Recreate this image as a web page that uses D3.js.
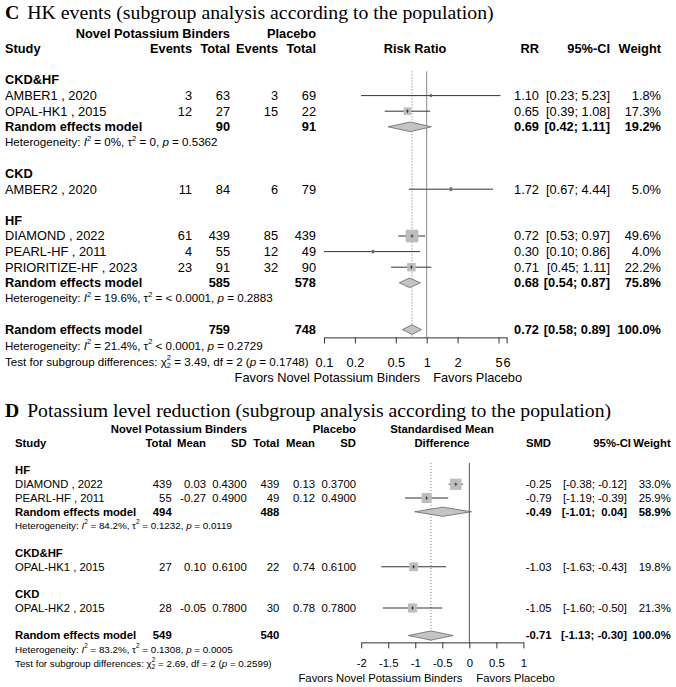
<!DOCTYPE html>
<html><head><meta charset="utf-8">
<script src="https://cdn.jsdelivr.net/npm/d3@7"></script>
<style>
html,body{margin:0;padding:0;background:#fff;}
text{font-family:"Liberation Sans",Arial,sans-serif;fill:#000;white-space:pre;}
.title{font-family:"Liberation Serif","Times New Roman",serif;}
</style></head>
<body><svg id="chart" width="676" height="687"></svg>
<script>
// ---------- Panel C data (HK events, risk ratio) ----------
const cGroups = ["CKD&HF", "CKD", "HF"];
const cStudies = ["AMBER1 , 2020", "OPAL-HK1 , 2015", "AMBER2 , 2020", "DIAMOND , 2022", "PEARL-HF , 2011", "PRIORITIZE-HF , 2023"];
const cStudyGroup = ["CKD&HF", "CKD&HF", "CKD", "HF", "HF", "HF"];
const cEventsT = [3, 12, 11, 61, 4, 23];
const cTotalT = [63, 27, 84, 439, 55, 91];
const cEventsC = [3, 15, 6, 85, 12, 32];
const cTotalC = [69, 22, 79, 439, 49, 90];
const cRR = [1.10, 0.65, 1.72, 0.72, 0.30, 0.71];
const cLower = [0.23, 0.39, 0.67, 0.53, 0.10, 0.45];
const cUpper = [5.23, 1.08, 4.44, 0.97, 0.86, 1.11];
const cWeight = [1.8, 17.3, 5.0, 49.6, 4.0, 22.2];
// pooled (subgroups with a random effects model, then overall)
const cPooledGroup = ["CKD&HF", "HF", "Overall"];
const cPooledTotalT = [90, 585, 759];
const cPooledTotalC = [91, 578, 748];
const cPooledRR = [0.69, 0.68, 0.72];
const cPooledLower = [0.42, 0.54, 0.58];
const cPooledUpper = [1.11, 0.87, 0.89];
const cPooledWeight = ["19.2%", "75.8%", "100.0%"];
const cHetI2 = ["0%", "19.6%", "21.4%"];
const cHetTau = ["= 0", "= < 0.0001", "< 0.0001"];
const cHetP = ["0.5362", "0.2883", "0.2729"];
const cTest = {chi: "3.49", df: "2", p: "0.1748"};
const cTicks = [0.1, 0.2, 0.5, 1, 2, 5, 6];
const cTickLabels = ["0.1", "0.2", "0.5", "1", "2", "5", "6"];

// ---------- Panel D data (potassium level, SMD) ----------
const dGroups = ["HF", "CKD&HF", "CKD"];
const dStudies = ["DIAMOND , 2022", "PEARL-HF , 2011", "OPAL-HK1 , 2015", "OPAL-HK2 , 2015"];
const dStudyGroup = ["HF", "HF", "CKD&HF", "CKD"];
const dTotalT = [439, 55, 27, 28];
const dMeanT = ["0.03", "-0.27", "0.10", "-0.05"];
const dSdT = ["0.4300", "0.4900", "0.6100", "0.7800"];
const dTotalC = [439, 49, 22, 30];
const dMeanC = ["0.13", "0.12", "0.74", "0.78"];
const dSdC = ["0.3700", "0.4900", "0.6100", "0.7800"];
const dSMD = [-0.25, -0.79, -1.03, -1.05];
const dLower = [-0.38, -1.19, -1.63, -1.60];
const dUpper = [-0.12, -0.39, -0.43, -0.50];
const dWeight = [33.0, 25.9, 19.8, 21.3];
const dPooledGroup = ["HF", "Overall"];
const dPooledTotalT = [494, 549];
const dPooledTotalC = [488, 540];
const dPooledSMD = [-0.49, -0.71];
const dPooledLower = [-1.01, -1.13];
const dPooledUpper = [0.04, -0.30];
const dPooledWeight = ["58.9%", "100.0%"];
const dHetI2 = ["84.2%", "83.2%"];
const dHetTau = ["= 0.1232", "= 0.1308"];
const dHetP = ["0.0119", "0.0005"];
const dTest = {chi: "2.69", df: "2", p: "0.2599"};
const dTicks = [-2, -1.5, -1, -0.5, 0, 0.5, 1];
const dTickLabels = ["-2", "-1.5", "-1", "-0.5", "0", "0.5", "1"];

// ---------- helpers ----------
const svg = d3.select("#chart");
const f2 = v => v.toFixed(2);          // plain hyphen-minus, like the reference
const ciStr = (lo, hi) => "[" + f2(lo) + "; " + (hi >= 0 && lo < 0 ? " " : "") + f2(hi) + "]";

function buildRows(groups, studyGroup, pooledGroup){
  const rows = []; let k = 0;
  groups.forEach(g => {
    rows.push({type: "group", g, k: k++});
    studyGroup.forEach((sg, i) => { if (sg === g) rows.push({type: "study", i, k: k++}); });
    const pi = pooledGroup.indexOf(g);
    if (pi >= 0){ rows.push({type: "pooled", pi, k: k++}); rows.push({type: "het", pi, k: k++}); }
    k++;
  });
  const po = pooledGroup.indexOf("Overall");
  rows.push({type: "pooled", pi: po, k: k++});
  rows.push({type: "het", pi: po, k: k++, last: true});
  rows.push({type: "test", k: k++});
  return rows;
}

function txt(g, x, y, s, opt){
  opt = opt || {};
  return g.append("text").attr("x", x).attr("y", y).attr("dy", "0.35em")
    .attr("text-anchor", opt.anchor || "end")
    .attr("font-size", opt.size)
    .attr("font-weight", opt.bold ? "bold" : "normal")
    .text(s);
}

// rich text built from separate pieces (keeps sub/superscripts as their own small texts)
function richText(g, x, y, size, pieces){
  let cx = x;
  pieces.forEach(p => {
    const fsz = p.sup || p.sub ? size * 0.65 : size;
    const yy = y + (p.sup ? -size * 0.38 : p.sub ? size * 0.3 : 0);
    const t = g.append("text").attr("x", cx).attr("y", yy).attr("dy", "0.35em")
      .attr("font-size", fsz).attr("text-anchor", "start")
      .attr("font-style", p.it ? "italic" : "normal").text(p.t);
    const w = t.node().getComputedTextLength();
    if (!p.stack) cx += w;
  });
}
function hetText(g, x, y, size, i2, tau, p){
  richText(g, x, y, size, [
    {t: "Heterogeneity: "}, {t: "I", it: true}, {t: "2", sup: true},
    {t: " = " + i2 + ", \u03c4"}, {t: "2", sup: true},
    {t: " " + tau + ", "}, {t: "p", it: true}, {t: " = " + p}
  ]);
}
function testText(g, x, y, size, tst){
  richText(g, x, y, size, [
    {t: "Test for subgroup differences: \u03c7"}, {t: "2", sup: true, stack: true}, {t: tst.df, sub: true},
    {t: " = " + tst.chi + ", df = " + tst.df + " ("}, {t: "p", it: true}, {t: " = " + tst.p + ")"}
  ]);
}

function drawPanel(cfg){
  const g = svg.append("g");
  const rowY = k => cfg.y0 + k * cfg.dy;
  const fs = cfg.fs, hs = cfg.hetSize;
  // title
  const tt = g.append("text").attr("class", "title").attr("x", cfg.titleX).attr("y", cfg.titleY)
    .attr("font-size", cfg.titleSize).attr("text-anchor", "start");
  tt.append("tspan").attr("font-weight", "bold").text(cfg.letter);
  tt.append("tspan").attr("dx", 3).text(" " + cfg.title);
  // headers
  cfg.header1.forEach(h => txt(g, h.x, rowY(-3), h.t, {size: fs, bold: true, anchor: h.a}));
  cfg.header2.forEach(h => txt(g, h.x, rowY(-2), h.t, {size: fs, bold: true, anchor: h.a}));

  const rows = cfg.rows;
  const xs = cfg.scale;
  const lastPooled = rows.filter(r => r.type === "pooled").slice(-1)[0];
  const axisY = rowY(lastPooled.k + 0.5);
  const topY = rowY(-0.55);
  // reference lines
  g.append("line").attr("x1", xs(cfg.ref)).attr("x2", xs(cfg.ref)).attr("y1", topY).attr("y2", axisY)
    .attr("stroke", cfg.refColor).attr("stroke-width", 1);
  g.append("line").attr("x1", xs(cfg.overallEst)).attr("x2", xs(cfg.overallEst)).attr("y1", topY).attr("y2", axisY)
    .attr("stroke", "#777").attr("stroke-width", 1).attr("stroke-dasharray", "1,2");

  rows.forEach(r => {
    const y = rowY(r.k);
    if (r.type === "group"){
      txt(g, cfg.studyX, y, r.g, {size: fs, bold: true, anchor: "start"});
    } else if (r.type === "study"){
      const i = r.i;
      txt(g, cfg.studyX, y, cfg.studies[i], {size: fs, anchor: "start"});
      cfg.cols.forEach(c => txt(g, c.x, y, c.v[i], {size: fs}));
      txt(g, cfg.estX, y, f2(cfg.est[i]), {size: fs});
      txt(g, cfg.ciX, y, ciStr(cfg.lo[i], cfg.hi[i]), {size: fs});
      txt(g, cfg.wX, y, cfg.w[i].toFixed(1) + "%", {size: fs});
      // CI line
      g.append("line").attr("x1", xs(cfg.lo[i])).attr("x2", xs(cfg.hi[i])).attr("y1", y).attr("y2", y)
        .attr("stroke", "#333").attr("stroke-width", 1);
      const s = cfg.sq(cfg.w[i]);
      g.append("rect").attr("x", xs(cfg.est[i]) - s / 2).attr("y", y - s / 2).attr("width", s).attr("height", s)
        .attr("fill", "#bdbdbd");
      g.append("line").attr("x1", xs(cfg.est[i])).attr("x2", xs(cfg.est[i])).attr("y1", y - 1.5).attr("y2", y + 1.5)
        .attr("stroke", "#222").attr("stroke-width", 1);
      g.append("line").attr("x1", xs(cfg.est[i]) - 1.5).attr("x2", xs(cfg.est[i]) + 1.5).attr("y1", y).attr("y2", y)
        .attr("stroke", "#444").attr("stroke-width", 0.8);
    } else if (r.type === "pooled"){
      const p = r.pi;
      txt(g, cfg.studyX, y, "Random effects model", {size: fs, bold: true, anchor: "start"});
      txt(g, cfg.pTotXT, y, cfg.pTotT[p], {size: fs, bold: true});
      txt(g, cfg.pTotXC, y, cfg.pTotC[p], {size: fs, bold: true});
      txt(g, cfg.estX, y, f2(cfg.pEst[p]), {size: fs, bold: true});
      txt(g, cfg.ciX, y, ciStr(cfg.pLo[p], cfg.pHi[p]), {size: fs, bold: true});
      txt(g, cfg.wX, y, cfg.pW[p], {size: fs, bold: true});
      const h = cfg.diaH;
      const pts = [[xs(cfg.pLo[p]), y], [xs(cfg.pEst[p]), y - h], [xs(cfg.pHi[p]), y], [xs(cfg.pEst[p]), y + h]];
      g.append("polygon").attr("points", pts.map(d => d.join(",")).join(" "))
        .attr("fill", "#c4c4c4").attr("stroke", "#666").attr("stroke-width", 0.8);
    } else if (r.type === "het"){
      const p = r.pi;
      hetText(g, cfg.studyX, y + (r.last ? cfg.lastHetShift : 0), hs, cfg.hetI2[p], cfg.hetTau[p], cfg.hetP[p]);
    } else if (r.type === "test"){
      testText(g, cfg.studyX, y + cfg.testShift, hs, cfg.test);
    }
  });

  // axis
  const ax = d3.axisBottom(xs).tickValues(cfg.ticks).tickFormat((d, i) => cfg.tickLabels[i]).tickSize(6).tickSizeOuter(0);
  const ag = g.append("g").attr("transform", `translate(0,${axisY})`).call(ax);
  ag.select(".domain").attr("stroke", "#333");
  ag.selectAll(".tick line").attr("stroke", "#333");
  ag.selectAll(".tick text").attr("y", cfg.tickLabelOff).attr("dy", "0.35em")
    .attr("font-size", fs).attr("font-family", "Liberation Sans, Arial, sans-serif").attr("fill", "#000");
  // favors labels
  const fy = axisY + cfg.favOff;
  txt(g, xs(cfg.ref) - cfg.favGap, fy, "Favors Novel Potassium Binders", {size: fs, anchor: "end"});
  txt(g, xs(cfg.ref) + cfg.favGap, fy, "Favors Placebo", {size: fs, anchor: "start"});
}

// Panel C
drawPanel({
  letter: "C", title: "HK events (subgroup analysis according to the population)",
  titleX: 5, titleY: 18.5, titleSize: 19.8, y0: 80, dy: 15.6, fs: 12.8, hetSize: 11.6, studyX: 5,
  header1: [{x: 230, t: "Novel Potassium Binders"}, {x: 316, t: "Placebo"}],
  header2: [{x: 5, t: "Study", a: "start"}, {x: 192, t: "Events"}, {x: 230, t: "Total"}, {x: 278, t: "Events"},
            {x: 316, t: "Total"}, {x: 415, t: "Risk Ratio", a: "middle"}, {x: 539, t: "RR"}, {x: 610, t: "95%-CI"}, {x: 661, t: "Weight"}],
  rows: buildRows(cGroups, cStudyGroup, cPooledGroup),
  studies: cStudies,
  cols: [{x: 192, v: cEventsT}, {x: 230, v: cTotalT}, {x: 278, v: cEventsC}, {x: 316, v: cTotalC}],
  est: cRR, lo: cLower, hi: cUpper, w: cWeight,
  pTotXT: 230, pTotXC: 316, pTotT: cPooledTotalT, pTotC: cPooledTotalC,
  pEst: cPooledRR, pLo: cPooledLower, pHi: cPooledUpper, pW: cPooledWeight,
  hetI2: cHetI2, hetTau: cHetTau, hetP: cHetP, test: cTest, testShift: 1, lastHetShift: 1,
  estX: 539, ciX: 610, wX: 661,
  scale: d3.scaleLog().domain([0.1, 6]).range([324, 506.6]),
  sq: d3.scaleSqrt().domain([0, 100]).range([0, 18]),
  ref: 1, overallEst: cPooledRR[2], refColor: "#8a8a8a", diaH: 4.8,
  ticks: cTicks, tickLabels: cTickLabels, tickLabelOff: 25, favOff: 40, favGap: 6.5
});

// Panel D
drawPanel({
  letter: "D", title: "Potassium level reduction (subgroup analysis according to the population)",
  titleX: 5, titleY: 417, titleSize: 19.7, y0: 470.5, dy: 13.75, fs: 11.3, hetSize: 9.8, studyX: 15,
  header1: [{x: 247, t: "Novel Potassium Binders"}, {x: 356, t: "Placebo"}, {x: 442, t: "Standardised Mean", a: "middle"}],
  header2: [{x: 15, t: "Study", a: "start"}, {x: 171.7, t: "Total"}, {x: 206, t: "Mean"}, {x: 246.7, t: "SD"},
            {x: 279.3, t: "Total"}, {x: 315, t: "Mean"}, {x: 356, t: "SD"}, {x: 442, t: "Difference", a: "middle"},
            {x: 551, t: "SMD"}, {x: 631, t: "95%-CI"}, {x: 670.7, t: "Weight"}],
  rows: buildRows(dGroups, dStudyGroup, dPooledGroup),
  studies: dStudies,
  cols: [{x: 171.7, v: dTotalT}, {x: 206, v: dMeanT}, {x: 246.7, v: dSdT}, {x: 279.3, v: dTotalC}, {x: 315, v: dMeanC}, {x: 356, v: dSdC}],
  est: dSMD, lo: dLower, hi: dUpper, w: dWeight,
  pTotXT: 171.7, pTotXC: 279.3, pTotT: dPooledTotalT, pTotC: dPooledTotalC,
  pEst: dPooledSMD, pLo: dPooledLower, pHi: dPooledUpper, pW: dPooledWeight,
  hetI2: dHetI2, hetTau: dHetTau, hetP: dHetP, test: dTest, testShift: 0.5, lastHetShift: 0.5,
  estX: 551.5, ciX: 627, wX: 670.7,
  scale: d3.scaleLinear().domain([-2, 1]).range([361.2, 523.4]),
  sq: d3.scaleSqrt().domain([0, 100]).range([0, 19.7]),
  ref: 0, overallEst: dPooledSMD[1], refColor: "#555", diaH: 4.6,
  ticks: dTicks, tickLabels: dTickLabels, tickLabelOff: 20.5, favOff: 35.5, favGap: 7
});
</script></body></html>
